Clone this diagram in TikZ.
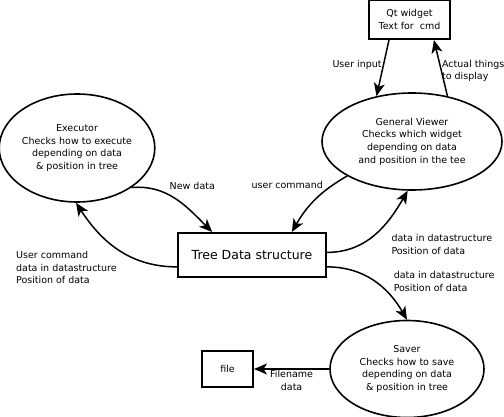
\documentclass[tikz,border=0pt]{standalone}
\usepackage{fontspec}
\setmainfont{DejaVu Sans}
\usetikzlibrary{arrows.meta, positioning, shapes.geometric}

\begin{document}
\begin{tikzpicture}[
  x=1pt, y=1pt,
  font=\fontsize{9.5}{12.7}\selectfont,
  >={Stealth[length=13pt, width=11pt, inset=3.5pt]},
  every node/.style={align=center},
  proc/.style={draw, ellipse, line width=1.6pt, inner sep=0pt},
  store/.style={draw, rectangle, line width=2pt, inner sep=0pt},
  arr/.style={->, line width=1.5pt},
  lbl/.style={inner sep=1pt, align=left},
]
\useasboundingbox (0,0) rectangle (504,-417);
% top
\node[store, minimum width=81pt, minimum height=39pt] (qt) at (409.5,-19.5)
  {Qt widget\\Text for\ \ cmd};
\node[proc, minimum width=180pt, minimum height=97pt] (viewer) at (412,-141.5)
  {General Viewer\\Checks which widget\\depending on data\\and position in the tee};
% left
\node[proc, minimum width=150pt, minimum height=108pt] (exec) at (77,-148)
  {Executor\\Checks how to execute\\depending on data\\\& position in tree};
% centre
\node[store, minimum width=148pt, minimum height=44pt,
      font=\fontsize{12.5}{15}\selectfont] (tree) at (252,-255) {Tree Data structure};
% bottom
\node[proc, minimum width=154pt, minimum height=97pt] (saver) at (407,-369)
  {Saver\\Checks how to save\\depending on data\\\& position in tree};
\node[store, minimum width=51pt, minimum height=36pt] (file) at (227.5,-369)
  {file};

\draw[arr] (qt.-135) -- node[lbl, pos=0.45, anchor=east] (uin) {User input} (viewer.128);
\draw[arr] (viewer.52) -- node[lbl, pos=0.45, anchor=west, inner sep=0pt] (disp)
  {Actual things\\to display} (qt.-40);
\draw[arr] (exec.-36) to[out=5, in=135]
  node[lbl, pos=0.4, anchor=south west, yshift=3pt] (newd) {New data} (tree.150);
\draw[arr] (viewer.208) to[out=210, in=60]
  node[lbl, pos=0.2, anchor=east, xshift=-8pt] (ucmd) {user command} (tree.30);
\draw[arr] (tree.2) to[out=0, in=-120]
  node[lbl, pos=0.5, anchor=west, xshift=15pt, yshift=-10pt] (dview)
  {data in datastructure\\Position of data} (viewer.-95);
\draw[arr] (tree.189) to[out=180, in=-57]
  node[lbl, pos=0.5, anchor=north east] (dexec)
  {User command\\data in datastructure\\Position of data} (exec.-91);
\draw[arr] (tree.-9) to[out=0, in=120]
  node[lbl, pos=0.5, anchor=west, xshift=18pt] (dsave)
  {data in datastructure\\Position of data} (saver.north);
\draw[arr] (saver.west) -- node[lbl, midway, below, align=center] (fname)
  {Filename\\data} (file.east);
\end{tikzpicture}
\end{document}
